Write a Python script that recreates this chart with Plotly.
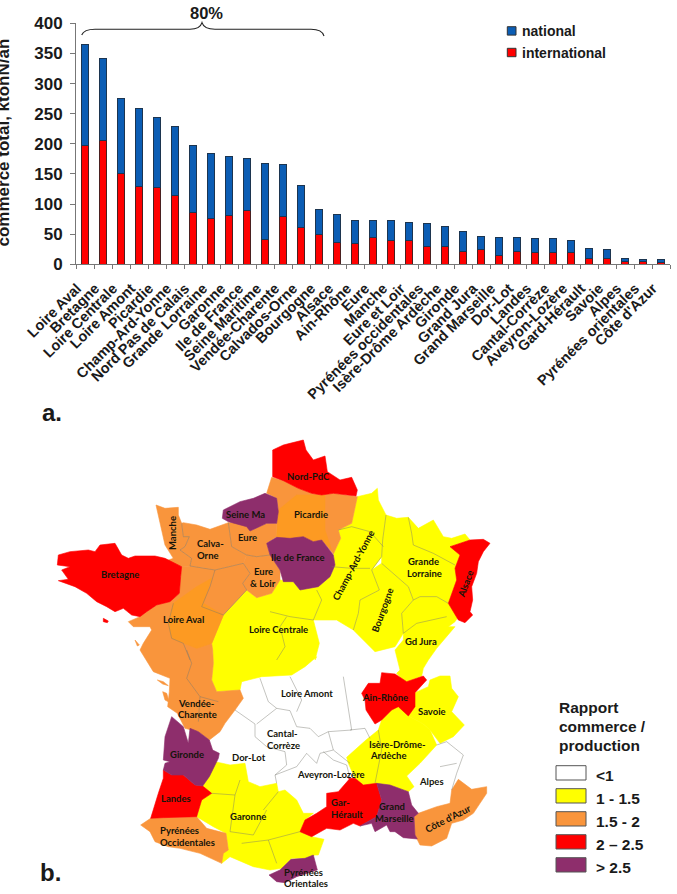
import plotly.graph_objects as go

# ---------- bar chart data (kton N / an) ----------
regions = ["Loire Aval","Bretagne","Loire Centrale","Loire Amont","Picardie","Champ-Ard-Yonne",
           "Nord Pas de Calais","Grande Lorraine","Garonne","Ile de France","Seine Maritime",
           "Vendée-Charente","Calvados-Orne","Bourgogne","Alsace","Ain-Rhône","Eure","Manche",
           "Eure et Loir","Pyrénées occidentales","Isère-Drôme Ardèche","Gironde","Grand Jura",
           "Grand Marseille","Dor-Lot","Landes","Cantal-Corrèze","Aveyron-Lozère","Gard-Hérault",
           "Savoie","Alpes","Pyrénées orientales","Côte d'Azur"]
total = [365,342,275,259,244,229,198,184,179,175,168,165,131,91,82,73,73,73,70,67,63,54,46,45,44,42,42,40,27,24,9,8,8]
international = [198,205,150,129,127,114,86,76,81,89,41,79,61,49,37,34,44,40,40,29,29,21,25,14,21,19,19,19,10,10,5,5,3]
national = [t-i for t,i in zip(total,international)]
y_ticks = [0,50,100,150,200,250,300,350,400]

# ---------- map outlines (traced, per crop of the source map) ----------
def z4(*p): return [(50+x/3,430+y/3) for x,y in p]
def z5(*p): return [(270+x/3,430+y/3) for x,y in p]
def z6(*p): return [(120+x/3,650+y/3) for x,y in p]
def z7(*p): return [(340+x/3,650+y/3) for x,y in p]
def z10(*p): return [(300+x/3,590+y/3) for x,y in p]

WHITE,YELLOW,ORANGE,DEEP,RED,PURPLE = "#FFFFFF","#FFFF00","#F9953C","#FD9A22","#FF0000","#8E2E6C"

polys = [
 ("Loire Centrale",YELLOW,z4((590,480),(620,503),(665,490),(690,450))+z5((70,455),(90,480),(145,470),(155,510),(130,570),(148,640),(135,690))+z6((590,20),(555,50),(515,75),(425,80),(365,95),(360,120),(290,125),(275,90),(280,40),(278,0))+z4((485,640),(520,555))),
 ("Champ-Ard-Yonne",YELLOW,z5((262,200),(305,190),(322,175),(325,210),(348,255),(338,330),(335,380),(305,420),(328,480),(270,510),(265,550),(250,600),(200,570),(130,570),(155,510),(140,480),(145,470),(180,440),(195,405),(190,372),(212,325),(205,300),(245,280))),
 ("Grande Lorraine",YELLOW,z5((348,255),(380,265),(415,262),(445,295),(490,270),(520,320),(545,325),(585,312),(600,330),(540,350),(570,375),(555,415),(560,450),(535,520),(500,500),(450,500),(430,510),(415,470),(375,435),(335,400),(335,380),(338,330))),
 ("Bourgogne",YELLOW,z5((250,600),(265,550),(270,510),(328,480),(305,420),(335,400),(375,435),(415,470),(430,510),(395,550),(400,610),(375,650),(315,665),(290,640))),
 ("Gd Jura",YELLOW,z5((430,510),(450,500),(500,500),(535,520),(565,560),(555,575),(535,590),(555,590))+z10((465,110),(410,175),(385,210),(370,235),(365,258),(335,270),(315,280),(290,250),(300,240),(285,180),(310,150),(310,130))+z5((395,550))),
 ("Savoie",YELLOW,z7((225,128),(265,110),(270,90),(300,78),(330,78),(335,115),(355,140),(335,185),(373,225),(340,260),(300,280),(270,240),(250,222),(205,198),(225,170))),
 ("Isere",YELLOW,z7((125,210),(155,180),(175,165),(205,198),(250,222),(270,240),(290,285),(240,340),(200,378),(222,410),(205,425),(150,405),(110,400),(70,405),(45,385),(25,340),(20,322),(78,270),(115,240))),
 ("Garonne",YELLOW,z6((285,335),(330,345),(375,340),(385,395),(420,410),(470,400),(475,425),(495,420),(530,450),(550,490),(580,490),(555,510),(540,545),(575,560),(612,568),(595,615),(585,615),(555,625),(515,625),(485,655),(450,660),(400,650),(330,620),(305,640),(310,600),(325,600),(318,550),(280,530),(230,500),(245,450),(275,430),(248,408),(268,380))),
 ("Loire Aval Vendee",ORANGE,z4((395,410),(420,408),(470,415),(495,420),(580,400),(600,430),(578,460),(590,480),(520,555),(485,640))+z6((278,0),(280,40),(275,90),(290,125),(360,120),(370,145),(345,180),(315,220),(300,245),(268,270),(235,245),(195,235),(172,190),(143,170),(148,125),(150,85),(100,65),(85,40),(60,0))+z4((280,640),(305,600),(300,590),(250,590),(235,575),(270,560),(290,545),(320,525),(360,515),(388,490),(392,440))),
 ("Loire Aval centre",DEEP,z4((370,520),(440,470),(485,445),(460,520),(520,555),(485,640),(440,655),(400,640),(365,625),(355,580))),
 ("Manche",ORANGE,z4((318,225),(345,235),(385,232),(385,255),(395,280),(400,320),(418,320),(405,350),(390,360),(425,385),(420,408),(395,410),(350,392),(370,385),(345,345),(335,300),(325,260))),
 ("Calva-Orne",ORANGE,z4((395,280),(400,278),(440,285),(480,298),(535,278),(545,350),(590,375),(580,400),(495,420),(470,415),(420,408),(425,385),(390,360),(405,350),(418,320),(400,320))),
 ("Eure",ORANGE,z4((535,278),(590,278),(600,303),(650,280),(680,280),(680,320),(650,340),(660,375),(620,380),(590,375),(545,350))),
 ("Eure Loir",ORANGE,z4((590,375),(620,380),(660,375),(690,420),(690,450),(665,490),(620,503),(590,480),(578,460),(600,430),(580,400))),
 ("Picardie",ORANGE,z5((5,142),(40,152),(85,175),(125,190),(155,195),(190,190),(262,200),(245,280),(205,300),(212,325),(190,372),(155,330),(130,335),(100,320),(60,325),(20,322),(20,280),(25,245),(20,205),(-10,190))),
 ("Picardie centre",DEEP,z5((25,240),(80,195),(165,195),(165,300),(185,360),(155,330),(130,335),(100,320),(60,325),(20,322))),
 ("Pyrenees Occ",ORANGE,z6((62,525),(92,505),(130,503),(230,500),(260,535),(318,550),(325,600),(310,610),(305,640),(240,610),(180,595),(145,590),(105,575),(90,545))),
 ("Cote d'Azur",ORANGE,z7((355,388),(395,418),(440,410),(440,430),(420,460),(400,490),(370,510),(335,520),(320,565),(275,588),(240,585),(225,555),(222,500),(235,490),(290,470),(330,460),(335,420))),
 ("Re",ORANGE,z6((112,90),(130,95),(145,107),(128,102))),
 ("Oleron",ORANGE,z6((128,125),(140,130),(148,157),(135,150))),
 ("Noirmoutier",ORANGE,z4((255,630),(268,645),(262,648))),
 ("Bretagne",RED,z4((25,375),(60,365),(115,360),(135,365),(150,345),(195,340),(215,375),(235,385),(255,378),(315,378),(345,385),(395,410),(392,440),(388,490),(360,515),(320,525),(290,545),(270,560),(245,555),(220,535),(195,545),(170,530),(140,515),(110,490),(75,470),(25,452),(55,448),(35,420),(60,410),(22,405))),
 ("Belle-Ile",RED,z4((160,565),(175,573),(172,578),(160,575))),
 ("Nord-PdC",RED,z5((8,60),(40,45),(60,40),(100,30),(108,60),(130,90),(165,78),(172,125),(210,150),(245,142),(262,180),(258,198),(190,190),(155,195),(125,190),(85,175),(40,152),(8,140))),
 ("Alsace",RED,z5((600,330),(640,328),(660,340),(640,365),(625,395),(620,430),(605,470),(608,510),(600,545),(608,555),(585,578),(565,570),(535,520),(560,450),(555,415),(570,375),(540,350))),
 ("Ain-Rhone",RED,z7((65,130),(85,100),(120,100),(125,68),(165,72),(200,95),(250,78),(260,90),(225,128),(225,170),(205,198),(175,170),(155,180),(125,210),(105,222),(78,180),(75,150))),
 ("Landes",RED,z6((130,360),(155,375),(190,375),(225,405),(248,408),(275,430),(245,450),(230,500),(130,503),(92,505),(115,430),(130,385))),
 ("Gard-Herault",RED,z7((25,385),(45,385),(70,405),(110,400),(125,450),(110,500),(60,528),(40,520),(0,540))+z6((620,535),(575,560),(540,545),(555,510),(590,490),(620,470),(620,430),(655,425),(690,385))),
 ("Seine Ma",PURPLE,z4((520,240),(570,215),(610,205),(645,190),(680,205),(685,245),(680,280),(650,280),(600,303),(590,290),(535,275),(517,265))),
 ("Ile de France",PURPLE,z5((-10,340),(20,322),(60,325),(100,320),(130,335),(155,330),(190,375),(195,405),(180,440),(145,470),(90,480),(70,455),(40,455),(30,420),(0,375))),
 ("Gironde",PURPLE,z6((155,200),(190,230),(205,280),(210,235),(235,245),(268,270),(278,300),(298,310),(295,325),(268,380),(248,408),(225,405),(190,375),(155,375),(130,360),(135,340),(150,335),(130,330),(135,260))),
 ("Grand Marseille",PURPLE,z7((110,400),(150,405),(205,425),(215,465),(235,490),(222,500),(225,555),(232,567),(190,563),(165,545),(150,545),(140,525),(105,545),(95,520),(60,528),(110,500),(125,450))),
 ("Pyrenees Or",PURPLE,z6((447,675),(480,660),(513,628),(555,625),(580,615),(592,660),(530,680),(495,698),(470,695))),
]

border_lines = [
 z4((395,280),(400,320),(418,320),(405,350),(390,360),(425,385),(420,408)),
 z4((535,278),(545,350),(590,375),(620,380),(660,375)),
 z4((420,408),(470,415),(495,420),(580,400),(600,430),(578,460),(590,480),(520,555)),
 z4((495,420),(480,470),(455,530),(520,555)),
 z4((370,520),(355,580),(365,625),(400,640),(420,690)),
 z5((348,255),(338,330),(335,380),(305,420),(328,480),(270,510),(265,550),(250,600)),
 z5((335,400),(375,435),(415,470),(430,510),(395,550),(400,610)),
 z5((430,510),(450,500),(500,500),(535,520)),
 z5((205,300),(245,290),(300,305),(340,350)),
 z5((185,410),(245,415),(300,415)),
 z5((130,570),(155,510),(140,480)),
 z5((415,262),(425,310),(430,345),(490,370),(555,405)),
 z5((0,545),(60,560),(130,570)),
 z5((50,560),(30,590),(45,650),(20,690)),
 z10((310,130),(350,100),(440,80)),
 z6((420,85),(445,155),(470,175),(410,222)),
 z6((345,180),(405,222),(405,260),(440,290),(495,305),(500,345),(465,375),(470,400)),
 z6((470,175),(510,182),(530,230),(570,235),(595,260),(625,245),(640,300),(600,310),(590,340),(560,310),(530,350),(465,375)),
 z6((510,80),(545,150),(530,185)),
 z6((670,80),(695,240),(625,245)),
 z6((690,240),(735,235),(750,265)),
 z6((640,300),(690,340)),
 z6((610,305),(640,330),(680,345),(690,385)),
 z6((275,430),(345,435),(360,390)),
 z6((430,480),(475,425)),
 z6((345,435),(330,545),(400,555),(440,480)),
 z6((365,580),(445,570),(470,640)),
 z6((445,570),(540,545)),
 z6((200,0),(215,40),(200,85),(240,140),(295,155)),
 z6((240,140),(235,215)),
 z7((115,240),(125,300),(105,400)),
 z7((290,285),(320,275),(370,315),(350,370),(335,420)),
 z7((350,340),(300,350)),
]

map_labels = [
 ("Nord-PdC",308,476,0),("Picardie",311,514,0),("Seine Ma",245,514,0),("Eure",247,537,0),("Manche",172,533,-90),
 ("Calva-",210,543,0),("Orne",208,555,0),("Eure",263,571,0),("& Loir",263,583,0),("Ile de France",297,557,0),
 ("Bretagne",120,574,0),("Champ-Ard-Yonne",353,565,-62),("Grande",423,561,0),("Lorraine",424,573,0),
 ("Bourgogne",382,610,-70),("Alsace",465,584,-70),("Gd Jura",421,641,0),("Loire Aval",183,619,0),
 ("Loire Centrale",278,629,0),("Loire Amont",307,693,0),("Vendée-",196,703,0),("Charente",197,714,0),
 ("Ain-Rhône",385,697,0),("Savoie",432,711,0),("Cantal-",282,733,0),("Corrèze",283,745,0),("Dor-Lot",249,757,0),
 ("Gironde",187,754,0),("Isère-Drôme-",397,744,0),("Ardèche",388,755,0),("Aveyron-Lozère",331,774,0),("Alpes",431,781,0),
 ("Garonne",248,816,0),("Landes",176,798,0),("Gar-",340,802,0),("Hérault",347,814,0),("Grand",392,806,0),("Marseille",394,818,0),
 ("Côte d’Azur",448,818,-27),("Pyrénées",179,830,0),("Occidentales",187,842,0),("Pyrénées",303,872,0),("Orientales",306,883,0),
]

legend_title = ["Rapport","commerce /","production"]
legend_items = ["<1","1 - 1.5","1.5 - 2","2 – 2.5","> 2.5"]
legend_colors = [WHITE,YELLOW,ORANGE,RED,PURPLE]
series_colors = ["#0B5DB4","#FF0000"]
series_names = ["national","international"]

W,H = 677,894
ARIAL = "Liberation Sans"
INK = "#1a1a1a"
fig = go.Figure()
fig.add_bar(x=regions,y=international,name="international",marker=dict(color=series_colors[1],line=dict(color="#4a2020",width=1)),width=0.44)
fig.add_bar(x=regions,y=national,name="national",marker=dict(color=series_colors[0],line=dict(color="#1c3550",width=1)),width=0.44)

def poly_trace(name,color,pts):
    return go.Scatter(x=[p[0] for p in pts]+[pts[0][0]],y=[p[1] for p in pts]+[pts[0][1]],xaxis="x2",yaxis="y2",
        mode="lines",fill="toself",fillcolor=color,line=dict(color=color,width=0.6),
        showlegend=False,hoverinfo="skip",name=name)
for n,c,p in polys:
    fig.add_trace(poly_trace(n,c,p))
bx,by=[],[]
for l in border_lines:
    bx += [p[0] for p in l]+[None]; by += [p[1] for p in l]+[None]
fig.add_trace(go.Scatter(x=bx,y=by,xaxis="x2",yaxis="y2",mode="lines",line=dict(color="rgba(120,120,110,0.55)",width=0.8),showlegend=False,hoverinfo="skip"))

ann=[]
def T(text,x,y,size,family=ARIAL,angle=0,anchor="center",color=INK):
    ann.append(dict(text=text,x=x,y=y,xref="x2",yref="y2",showarrow=False,xanchor=anchor,yanchor="middle",textangle=angle,
                    font=dict(family=family,size=size,color=color,weight="bold")))
for t,x,y,a in map_labels:
    T(t,x,y,9.5,family="Lato",angle=a,color="#14140a")
T("commerce total, ktonN/an",2.5,143,17,angle=-90)
T("80%",206.5,13,16.5)
T("a.",52,412,24)
T("b.",50,872,24)
for i,t in enumerate(legend_title):
    T(t,556.5,707+i*19,15.5,anchor="left")
shapes=[dict(type="path",xref="x2",yref="y2",line=dict(color="#222",width=1.1),
  path="M 81.7 35 Q 84 29.3 95 29.3 L 190 29.3 Q 200 29.3 202 22.7 Q 204 29.3 215 29.3 L 311 29.3 Q 322 29.3 324 36")]
for i,(t,c) in enumerate(zip(series_names,series_colors)):
    y0=26.7+i*21.6
    shapes.append(dict(type="rect",xref="x2",yref="y2",x0=507.3,x1=516,y0=y0,y1=y0+8.4,fillcolor=c,line=dict(color="#333",width=1)))
    T(t,519.5,y0+4.4,14,anchor="left")
for i,(t,c) in enumerate(zip(legend_items,legend_colors)):
    y0=765.7+i*23
    shapes.append(dict(type="rect",xref="x2",yref="y2",x0=556,x1=586,y0=y0,y1=y0+14.3,fillcolor=c,line=dict(color="#555",width=1)))
    T(t,594,y0+9.3,15.5,anchor="left")

fig.update_layout(width=W,height=H,autosize=False,margin=dict(l=0,r=0,t=0,b=0),paper_bgcolor="white",plot_bgcolor="rgba(0,0,0,0)",
    barmode="stack",bargap=0.56,showlegend=False,
    xaxis=dict(domain=[76/W,670/W],anchor="y",type="category",categoryorder="array",categoryarray=regions,tickangle=-45,
        tickson="boundaries",ticks="outside",ticklen=4,tickcolor="#777",linecolor="#777",linewidth=1,showgrid=False,
        ticklabelstandoff=9,ticklabelshift=-8,
        tickfont=dict(family=ARIAL,size=14.5,color=INK,weight="bold"),automargin=False),
    yaxis=dict(domain=[(H-264.3)/H,(H-23.3)/H],anchor="x",range=[0,400],tickvals=y_ticks,ticks="outside",ticklen=5,tickcolor="#777",
        linecolor="#777",linewidth=1,showgrid=False,zeroline=False,ticklabelstandoff=4,
        tickfont=dict(family=ARIAL,size=17,color=INK,weight="bold"),automargin=False),
    xaxis2=dict(domain=[0,1],anchor="y2",range=[0,W],visible=False,fixedrange=True),
    yaxis2=dict(domain=[0,1],anchor="x2",range=[H,0],visible=False,fixedrange=True),
    annotations=ann,shapes=shapes)
fig.write_html("out.html",config=dict(displayModeBar=False),post_script="document.body.style.margin='0';document.documentElement.style.overflow='hidden';")
